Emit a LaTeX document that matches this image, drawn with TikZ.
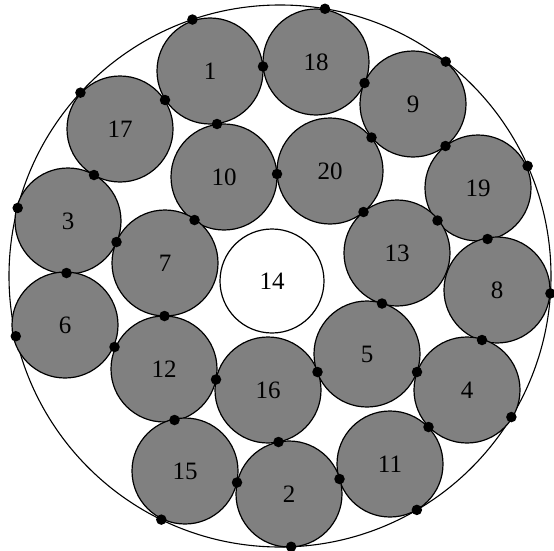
\documentclass[tikz,border=0pt]{standalone}
\usepackage{fontspec}
\setmainfont{Liberation Serif}
\usetikzlibrary{calc}

\begin{document}
\begin{tikzpicture}[x=1pt, y=-1pt,
  shell/.style={circle, draw=black, line width=1.1pt, minimum size=542pt, inner sep=0pt},
  rod/.style={circle, draw=black, line width=1.2pt, fill=black!50, minimum size=106pt,
              inner sep=0pt, font=\fontsize{25}{28}\selectfont},
  core/.style={rod, fill=white, minimum size=104pt},
  dot/.style={circle, fill=black, minimum size=10.5pt, inner sep=0pt}
]
\useasboundingbox (0,0) rectangle (554,551);

\node[shell] (sh) at (280,276) {};

\node[rod] (n1)  at (210,71)  {1};
\node[rod] (n18) at (316,62)  {18};
\node[rod] (n9)  at (413,104) {9};
\node[rod] (n17) at (120,129) {17};
\node[rod] (n10) at (224,177) {10};
\node[rod] (n20) at (330,171) {20};
\node[rod] (n19) at (478,188) {19};
\node[rod] (n3)  at (68,221)  {3};
\node[rod] (n7)  at (165,263) {7};
\node[rod] (n13) at (397,253) {13};
\node[rod] (n8)  at (497,290) {8};
\node[rod] (n6)  at (65,325)  {6};
\node[rod] (n12) at (164,369) {12};
\node[rod] (n16) at (268,390) {16};
\node[rod] (n5)  at (367,354) {5};
\node[rod] (n4)  at (467,390) {4};
\node[rod] (n11) at (390,464) {11};
\node[rod] (n2)  at (289,494) {2};
\node[rod] (n15) at (185,471) {15};
\node[core] (n14) at (272,281) {14};

% contacts between rods
\node[dot] at ($(n1.center)!0.5!(n18.center)$) {};
\node[dot] at ($(n1.center)!0.5!(n17.center)$) {};
\node[dot] at ($(n1.center)!0.5!(n10.center)$) {};
\node[dot] at ($(n17.center)!0.5!(n3.center)$) {};
\node[dot] at ($(n3.center)!0.5!(n7.center)$) {};
\node[dot] at ($(n3.center)!0.5!(n6.center)$) {};
\node[dot] at ($(n10.center)!0.5!(n7.center)$) {};
\node[dot] at ($(n10.center)!0.5!(n20.center)$) {};
\node[dot] at ($(n18.center)!0.5!(n9.center)$) {};
\node[dot] at ($(n20.center)!0.5!(n9.center)$) {};
\node[dot] at ($(n9.center)!0.5!(n19.center)$) {};
\node[dot] at ($(n20.center)!0.5!(n13.center)$) {};
\node[dot] at ($(n13.center)!0.5!(n19.center)$) {};
\node[dot] at ($(n19.center)!0.5!(n8.center)$) {};
\node[dot] at ($(n6.center)!0.5!(n12.center)$) {};
\node[dot] at ($(n7.center)!0.5!(n12.center)$) {};
\node[dot] at ($(n12.center)!0.5!(n16.center)$) {};
\node[dot] at ($(n12.center)!0.5!(n15.center)$) {};
\node[dot] at ($(n15.center)!0.5!(n2.center)$) {};
\node[dot] at ($(n2.center)!0.5!(n16.center)$) {};
\node[dot] at ($(n2.center)!0.5!(n11.center)$) {};
\node[dot] at ($(n16.center)!0.5!(n5.center)$) {};
\node[dot] at ($(n13.center)!0.5!(n5.center)$) {};
\node[dot] at ($(n5.center)!0.5!(n4.center)$) {};
\node[dot] at ($(n8.center)!0.5!(n4.center)$) {};
\node[dot] at ($(n4.center)!0.5!(n11.center)$) {};

% contacts with the shell
\node[dot] at ($(sh.center)!271pt!(n1.center)$) {};
\node[dot] at ($(sh.center)!271pt!(n17.center)$) {};
\node[dot] at ($(sh.center)!271pt!(n3.center)$) {};
\node[dot] at ($(sh.center)!271pt!(n18.center)$) {};
\node[dot] at ($(sh.center)!271pt!(n9.center)$) {};
\node[dot] at ($(sh.center)!271pt!(n19.center)$) {};
\node[dot] at ($(sh.center)!271pt!(n8.center)$) {};
\node[dot] at ($(sh.center)!271pt!(n6.center)$) {};
\node[dot] at ($(sh.center)!271pt!(n15.center)$) {};
\node[dot] at ($(sh.center)!271pt!(n2.center)$) {};
\node[dot] at ($(sh.center)!271pt!(n4.center)$) {};
\node[dot] at ($(sh.center)!271pt!(n11.center)$) {};
\end{tikzpicture}
\end{document}
